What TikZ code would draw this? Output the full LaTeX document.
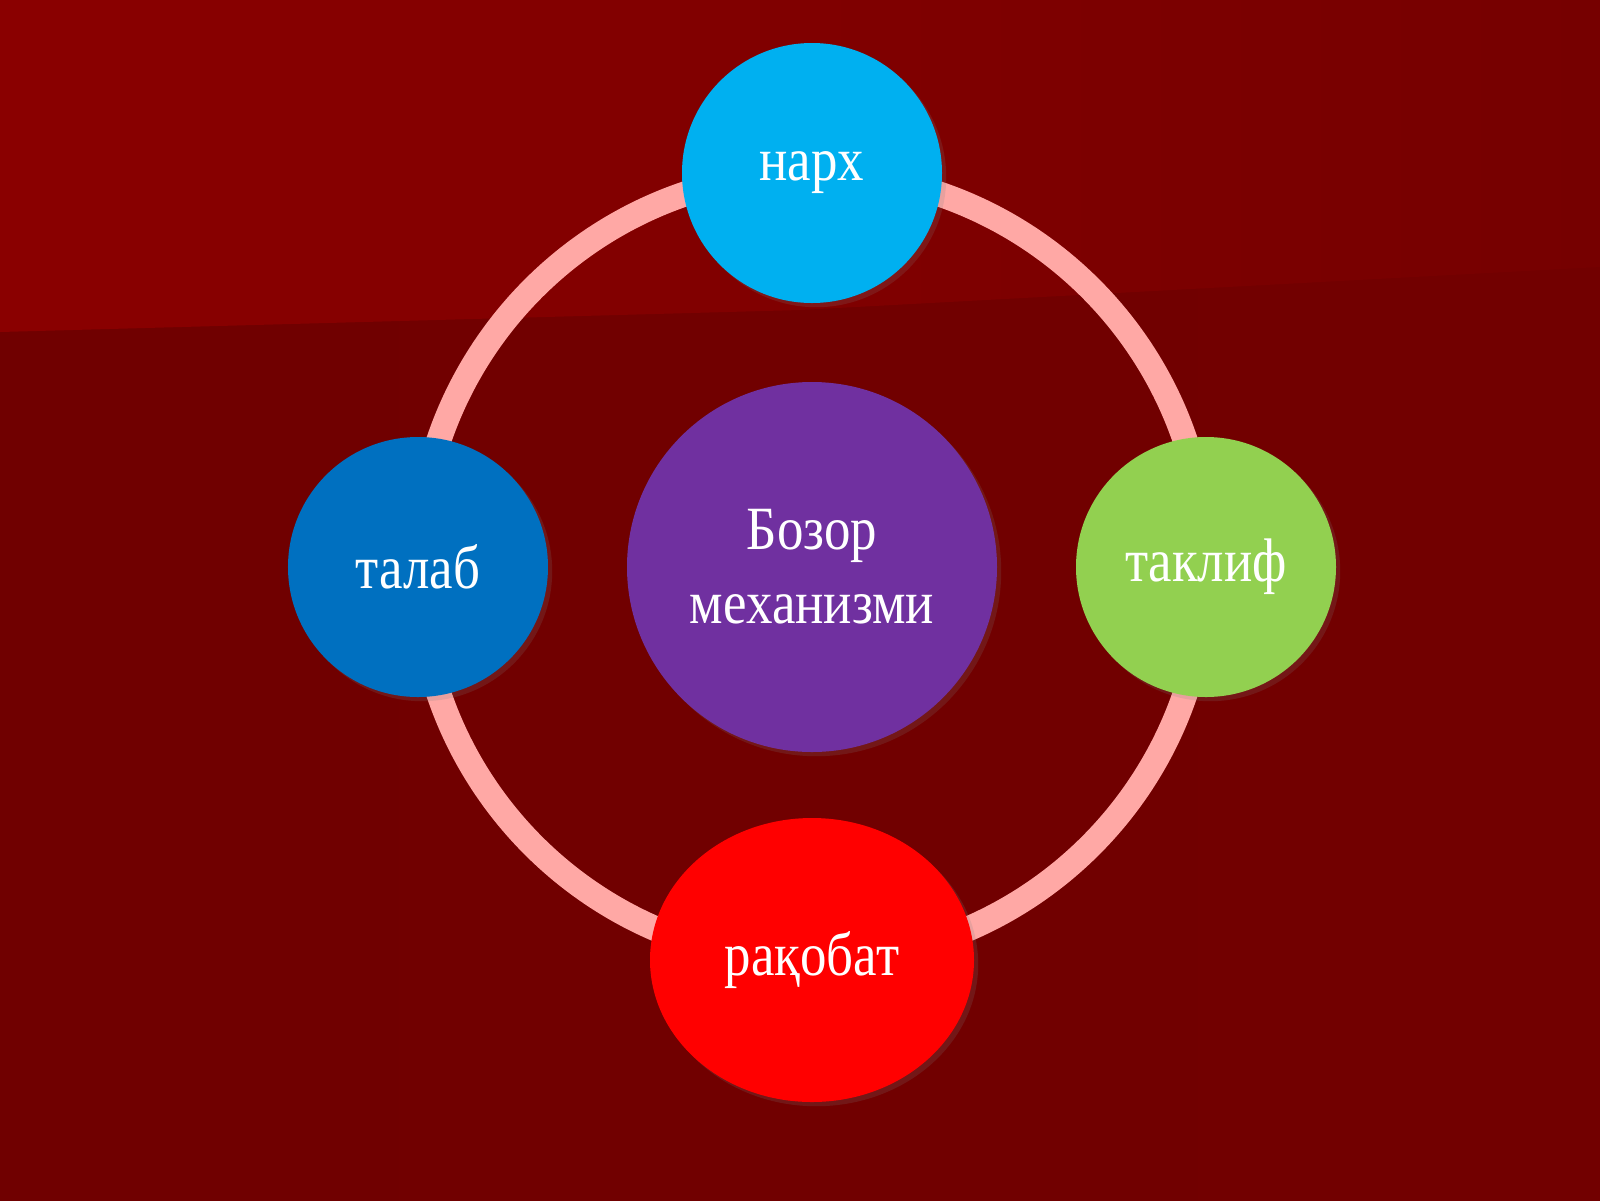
\documentclass[tikz,border=0pt]{standalone}
\usepackage{fontspec}
\setmainfont{Liberation Serif}[FakeStretch=0.86]
\usetikzlibrary{positioning,shadows,shapes.geometric}

\definecolor{bgdark}{HTML}{700000}
\definecolor{bgdarkright}{HTML}{720000}
\definecolor{bglight}{HTML}{8A0000}
\definecolor{bglightright}{HTML}{760000}
\definecolor{ringpink}{HTML}{FFA8A5}
\definecolor{bozorpurple}{HTML}{7030A0}
\definecolor{narxcyan}{HTML}{00B0F0}
\definecolor{talabblue}{HTML}{0070C0}
\definecolor{takliflime}{HTML}{92D050}
\definecolor{raqobatred}{HTML}{FF0000}

\begin{document}
\begin{tikzpicture}[
	node distance=7.9mm,
	bubble/.style = {
		circle, fill=#1, text=white, align=center,
		minimum size=26mm, inner sep=0pt, outer sep=0pt,
		font=\fontsize{17.5}{21}\selectfont,
		drop shadow={shadow xshift=1.2pt, shadow yshift=-1.2pt,
		             opacity=0.18}},
	ring/.style = {draw=ringpink, line width=2.5mm}
]
% background
\useasboundingbox (-8.12,5.67) rectangle (7.88,-6.33);
\shade[left color=bgdark, right color=bgdarkright]
	(-8.12,5.67) rectangle (7.88,-6.33);
\shade[left color=bglight, right color=bglightright]
	(-8.12,5.67) -- (7.88,5.67) -- (7.88,3.0) -- (-0.12,2.57)
	-- (-8.12,2.35) -- cycle;

\node (bozor) [bubble=bozorpurple, minimum size=37mm]
	{Бозор\\механизми};

\draw[ring] (bozor.center) circle (3.94);

\node (narx)    [bubble=narxcyan,   above=of bozor] {нарх};
\node (talab)   [bubble=talabblue,  left=of bozor]  {талаб};
\node (taklif)  [bubble=takliflime, right=of bozor] {таклиф};
\node (raqobat) [bubble=raqobatred, ellipse, minimum width=32.4mm,
                 minimum height=28.4mm, below=6.6mm of bozor] {рақобат};
\end{tikzpicture}
\end{document}
